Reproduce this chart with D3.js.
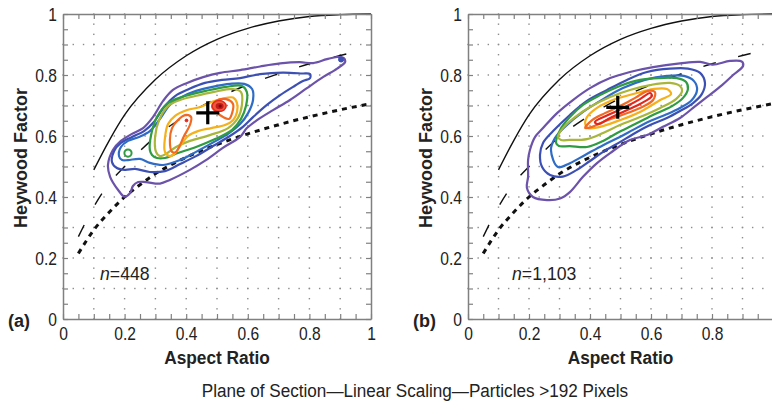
<!DOCTYPE html>
<html><head><meta charset="utf-8">
<script src="https://cdn.jsdelivr.net/npm/d3@7"></script>
<style>
body{margin:0;background:#fff;}
svg{display:block;}
.lbl{font-family:"Liberation Sans",Arial,sans-serif;font-size:19px;fill:#222;}
.bold{font-family:"Liberation Sans",Arial,sans-serif;font-weight:bold;font-size:18px;fill:#222;}
</style></head><body>
<svg id="chart" width="772" height="408"></svg>
<script>
// ---------- data ----------
const majorTicks = [0, 0.2, 0.4, 0.6, 0.8, 1];
const minorStep = 0.05;
const gridValues = [0.1,0.2,0.3,0.4,0.5,0.6,0.7,0.8,0.9];

// theoretical curves
const solidAR = [0.1,0.15,0.2,0.3,0.4,0.5,0.6,0.7,0.8,0.9,1.0];
const solidHF = [0.489,0.585,0.669,0.785,0.863,0.917,0.953,0.977,0.992,0.998,1.0];
const dashAR  = [0.05,0.1,0.15,0.2,0.3,0.4,0.5,0.6,0.7,0.8,0.9,0.945];
const dashHF  = [0.27,0.368,0.445,0.50,0.597,0.668,0.724,0.768,0.804,0.837,0.864,0.875];
const dotAR   = [0.05,0.1,0.15,0.2,0.25,0.3,0.35,0.4,0.5,0.6,0.7,0.8,0.9,1.0];
const dotHF   = [0.215,0.292,0.35,0.40,0.44,0.476,0.505,0.53,0.572,0.607,0.637,0.663,0.686,0.706];

// contour levels (outer -> inner)
const levelNames  = ["purple","blue1","blue2","green","olive","yellow","orange","red"];
const levelColors = ["#6b52aa","#3c50b4","#2f6cc6","#2f9c42","#a8b63a","#f5b01a","#f26a22","#e2261c"];

// panel (a) contours [aspect ratio, Heywood factor]
const a_purple = [[0.200,0.401],[0.179,0.423],[0.153,0.466],[0.146,0.505],[0.162,0.554],[0.188,0.584],[0.224,0.607],[0.260,0.626],[0.292,0.662],[0.325,0.715],[0.357,0.751],[0.403,0.774],[0.455,0.793],[0.510,0.807],[0.575,0.816],[0.640,0.828],[0.705,0.838],[0.769,0.842],[0.812,0.839],[0.857,0.852],[0.890,0.859],[0.911,0.856],[0.916,0.843],[0.890,0.821],[0.844,0.793],[0.792,0.757],[0.737,0.718],[0.682,0.685],[0.630,0.652],[0.597,0.626],[0.575,0.597],[0.519,0.561],[0.464,0.521],[0.412,0.489],[0.347,0.456],[0.315,0.444],[0.269,0.449],[0.244,0.449],[0.227,0.436],[0.218,0.413]];
const a_blue1 = [[0.159,0.515],[0.166,0.551],[0.188,0.577],[0.224,0.597],[0.263,0.616],[0.295,0.646],[0.328,0.695],[0.364,0.731],[0.409,0.754],[0.461,0.774],[0.516,0.784],[0.575,0.790],[0.640,0.803],[0.714,0.808],[0.776,0.805],[0.802,0.803],[0.802,0.790],[0.779,0.780],[0.747,0.761],[0.705,0.734],[0.662,0.702],[0.617,0.662],[0.584,0.630],[0.542,0.600],[0.487,0.567],[0.432,0.534],[0.380,0.508],[0.331,0.485],[0.282,0.482],[0.234,0.492],[0.201,0.489],[0.175,0.495]];
const a_blue2 = [[0.182,0.534],[0.188,0.564],[0.211,0.584],[0.247,0.597],[0.282,0.616],[0.315,0.656],[0.347,0.702],[0.386,0.728],[0.432,0.748],[0.484,0.761],[0.542,0.771],[0.588,0.771],[0.614,0.754],[0.617,0.718],[0.601,0.675],[0.575,0.639],[0.536,0.607],[0.484,0.577],[0.432,0.548],[0.380,0.521],[0.325,0.505],[0.282,0.512],[0.250,0.525],[0.211,0.521],[0.192,0.521]];
const a_green = [[0.282,0.554],[0.286,0.603],[0.305,0.662],[0.341,0.708],[0.396,0.731],[0.464,0.748],[0.529,0.761],[0.581,0.764],[0.597,0.744],[0.594,0.698],[0.578,0.656],[0.549,0.620],[0.494,0.590],[0.432,0.564],[0.373,0.544],[0.331,0.528],[0.305,0.528],[0.289,0.538]];
const a_olive = [[0.302,0.548],[0.299,0.597],[0.312,0.652],[0.341,0.698],[0.380,0.718],[0.429,0.731],[0.487,0.744],[0.552,0.754],[0.578,0.744],[0.581,0.702],[0.568,0.659],[0.536,0.626],[0.477,0.603],[0.412,0.584],[0.367,0.564],[0.334,0.541],[0.315,0.534]];
const a_yellow = [[0.331,0.548],[0.331,0.593],[0.341,0.639],[0.364,0.666],[0.403,0.685],[0.445,0.695],[0.484,0.712],[0.520,0.723],[0.552,0.726],[0.565,0.708],[0.565,0.679],[0.552,0.652],[0.526,0.636],[0.481,0.626],[0.438,0.616],[0.406,0.600],[0.383,0.571],[0.364,0.544],[0.347,0.534]];
const a_orange1 = [[0.354,0.548],[0.347,0.587],[0.354,0.626],[0.373,0.652],[0.399,0.669],[0.416,0.662],[0.412,0.636],[0.393,0.600],[0.377,0.564],[0.367,0.548]];
const a_orange2 = [[0.484,0.695],[0.497,0.715],[0.529,0.721],[0.552,0.705],[0.549,0.675],[0.539,0.656],[0.520,0.662],[0.497,0.679]];
const a_contours = [["purple",a_purple],["blue1",a_blue1],["blue2",a_blue2],["green",a_green],["olive",a_olive],["yellow",a_yellow],["orange",a_orange1],["orange",a_orange2]];
const a_peak = [0.507,0.698];
const a_spots = [["blue1",0.903,0.851],["green",0.211,0.544],["red",0.401,0.651]];
const a_mean = [0.470,0.676];

// panel (b) contours
const b_purple = [[0.197,0.521],[0.203,0.554],[0.220,0.597],[0.246,0.626],[0.292,0.675],[0.344,0.718],[0.400,0.757],[0.466,0.790],[0.531,0.810],[0.607,0.826],[0.695,0.838],[0.761,0.843],[0.803,0.834],[0.859,0.846],[0.898,0.844],[0.902,0.830],[0.869,0.800],[0.833,0.767],[0.784,0.728],[0.738,0.692],[0.695,0.659],[0.639,0.630],[0.587,0.603],[0.531,0.587],[0.466,0.544],[0.423,0.511],[0.377,0.466],[0.334,0.416],[0.302,0.395],[0.259,0.390],[0.213,0.400],[0.193,0.430],[0.197,0.466]];
const b_blue1 = [[0.236,0.538],[0.246,0.577],[0.279,0.616],[0.334,0.669],[0.390,0.715],[0.456,0.751],[0.521,0.784],[0.587,0.810],[0.662,0.821],[0.721,0.821],[0.761,0.807],[0.777,0.774],[0.767,0.738],[0.738,0.708],[0.695,0.682],[0.652,0.659],[0.597,0.636],[0.548,0.610],[0.498,0.580],[0.443,0.548],[0.400,0.518],[0.357,0.489],[0.311,0.467],[0.269,0.472],[0.243,0.498]];
const b_blue2 = [[0.272,0.554],[0.285,0.593],[0.321,0.633],[0.377,0.679],[0.443,0.721],[0.508,0.757],[0.580,0.784],[0.652,0.797],[0.708,0.797],[0.741,0.780],[0.751,0.751],[0.734,0.718],[0.695,0.692],[0.646,0.669],[0.590,0.646],[0.541,0.620],[0.498,0.597],[0.443,0.570],[0.384,0.538],[0.334,0.511],[0.295,0.498]];
const b_green = [[0.289,0.577],[0.302,0.620],[0.334,0.662],[0.377,0.702],[0.433,0.734],[0.498,0.764],[0.564,0.784],[0.630,0.790],[0.685,0.790],[0.715,0.777],[0.721,0.754],[0.705,0.725],[0.669,0.698],[0.613,0.672],[0.548,0.639],[0.489,0.610],[0.443,0.584],[0.390,0.564],[0.334,0.567],[0.298,0.567]];
const b_olive = [[0.295,0.597],[0.311,0.626],[0.351,0.662],[0.400,0.695],[0.466,0.728],[0.531,0.751],[0.597,0.767],[0.662,0.774],[0.695,0.764],[0.702,0.748],[0.682,0.721],[0.630,0.692],[0.564,0.662],[0.498,0.636],[0.443,0.610],[0.390,0.590],[0.334,0.587],[0.305,0.587]];
const b_yellow = [[0.384,0.643],[0.390,0.662],[0.423,0.692],[0.475,0.718],[0.554,0.741],[0.607,0.754],[0.652,0.754],[0.666,0.738],[0.630,0.718],[0.564,0.679],[0.498,0.652],[0.433,0.630],[0.393,0.626]];
const b_orange = [[0.384,0.626],[0.407,0.652],[0.449,0.675],[0.498,0.698],[0.548,0.725],[0.590,0.748],[0.613,0.744],[0.607,0.718],[0.564,0.692],[0.505,0.669],[0.449,0.649],[0.407,0.630]];
const b_red = [[0.416,0.646],[0.466,0.672],[0.515,0.695],[0.564,0.721],[0.597,0.741],[0.603,0.731],[0.564,0.705],[0.515,0.682],[0.466,0.659],[0.426,0.639]];
const b_contours = [["purple",b_purple],["blue1",b_blue1],["blue2",b_blue2],["green",b_green],["olive",b_olive],["yellow",b_yellow],["orange",b_orange],["red",b_red]];
const b_mean = [0.491,0.694];

const panelTags = ["(a)","(b)"];
const sampleSizes = ["448","1,103"];
const xTitle = "Aspect Ratio", yTitle = "Heywood Factor";
const caption = "Plane of Section\u2014Linear Scaling\u2014Particles >192 Pixels";

// ---------- drawing ----------
const svg = d3.select("#chart");
const colorOf = d3.scaleOrdinal().domain(levelNames).range(levelColors);
const AX = "#808080";
// condense text (the original uses a narrow face)
const narrow = (sel, k) => sel.each(function(){
  const w = this.getComputedTextLength();
  if (w > 0) d3.select(this).attr("textLength", w*k).attr("lengthAdjust","spacingAndGlyphs");
});

const panels = [
  {left:63, right:371, xLabels:[0,0.2,0.4,0.6,0.8,1], rightAxis:true, contours:a_contours, mean:a_mean, tag:panelTags[0], n:sampleSizes[0], nX:100, peak:a_peak, spots:a_spots},
  {left:468, right:773, xLabels:[0,0.2,0.4,0.6,0.8], rightAxis:false, contours:b_contours, mean:b_mean, tag:panelTags[1], n:sampleSizes[1], nX:512, peak:null, spots:[]}
];
const plotTop = 14, plotBottom = 319;
const fmt = d => d === 0 ? "0" : d === 1 ? "1" : d3.format(".1f")(d);
const minorVals = d3.range(0, 21).map(i => +(i*minorStep).toFixed(2));

panels.forEach((p, pi) => {
  const x = d3.scaleLinear().domain([0,1]).range([p.left, p.right]);
  const y = d3.scaleLinear().domain([0,1]).range([plotBottom, plotTop]);
  const g = svg.append("g");

  // dotted grid
  const gd = g.append("g").attr("fill", "#8c8c8c");
  const fine = d3.range(0, 31).map(i => i/30);
  gridValues.forEach(v => {
    fine.forEach(f => {
      gd.append("rect").attr("x", x(f)-0.7).attr("y", y(v)-0.7).attr("width",1.4).attr("height",1.4);
      gd.append("rect").attr("x", x(v)-0.7).attr("y", y(f)-0.7).attr("width",1.4).attr("height",1.4);
    });
  });

  // theoretical curves
  const line = d3.line().x(d => x(d[0])).y(d => y(d[1])).curve(d3.curveMonotoneX);
  g.append("path").datum(solidAR.map((v,i)=>[v, solidHF[i]])).attr("d", line)
    .attr("fill","none").attr("stroke","#111").attr("stroke-width",1.4);
  g.append("path").datum(dashAR.map((v,i)=>[v, dashHF[i]])).attr("d", line)
    .attr("fill","none").attr("stroke","#111").attr("stroke-width",1.4).attr("stroke-dasharray","13,23");
  g.append("path").datum(dotAR.map((v,i)=>[v, dotHF[i]])).attr("d", line)
    .attr("fill","none").attr("stroke","#111").attr("stroke-width",3).attr("stroke-dasharray","5,5");

  // contours
  const cl = d3.line().x(d => x(d[0])).y(d => y(d[1])).curve(d3.curveCatmullRomClosed.alpha(0.5));
  p.contours.forEach(([lv, pts]) => {
    g.append("path").datum(pts).attr("d", cl).attr("fill","none")
      .attr("stroke", colorOf(lv)).attr("stroke-width", 2.2).attr("stroke-linejoin","round");
  });
  p.spots.forEach(([lv, sx, sy]) => {
    const big = lv === "green";
    g.append("circle").attr("cx", x(sx)).attr("cy", y(sy)).attr("r", big ? 3.6 : (lv==="red"?1.4:2.6))
      .attr("fill", big ? "none" : colorOf(lv)).attr("stroke", colorOf(lv)).attr("stroke-width", big ? 2 : 1);
  });
  if (p.peak) {
    g.append("ellipse").attr("cx", x(p.peak[0])).attr("cy", y(p.peak[1])).attr("rx", 7).attr("ry", 5.5)
      .attr("fill", "#ec5a3c").attr("stroke", "#e2261c").attr("stroke-width", 1.5);
    g.append("ellipse").attr("cx", x(p.peak[0])+0.5).attr("cy", y(p.peak[1])).attr("rx", 4).attr("ry", 3.2).attr("fill", "#c41a1a");
    g.append("circle").attr("cx", x(p.peak[0])+1).attr("cy", y(p.peak[1])).attr("r", 1.6).attr("fill", "#7a0c0c");
  }

  // mean cross
  const cx = x(p.mean[0]), cy = y(p.mean[1]);
  g.append("path").attr("d", `M${cx-11.5},${cy}H${cx+11.5}M${cx},${cy-11.5}V${cy+11.5}`)
    .attr("stroke","#000").attr("stroke-width",3.2);

  // axes
  const styleAxis = sel => {
    sel.select(".domain").attr("stroke", AX).attr("stroke-width", 1.5);
    sel.selectAll(".tick line").attr("stroke", AX).attr("stroke-width", 1.2);
    sel.selectAll(".tick text").attr("class","lbl").attr("fill","#222").call(narrow, 0.82);
  };
  const xVals = minorVals.filter(v => x(v) <= 772);
  g.append("g").attr("transform", `translate(0,${plotBottom})`)
    .call(d3.axisBottom(x).tickValues(xVals).tickSizeInner(-5).tickSizeOuter(0).tickPadding(8)
      .tickFormat(d => p.xLabels.some(l => Math.abs(l-d)<1e-9) ? fmt(d) : ""))
    .call(styleAxis);
  g.append("g").attr("transform", `translate(0,${plotTop})`)
    .call(d3.axisTop(x).tickValues(xVals).tickSizeInner(-5).tickSizeOuter(0).tickFormat(""))
    .call(styleAxis);
  g.append("g").attr("transform", `translate(${p.left},0)`)
    .call(d3.axisLeft(y).tickValues(minorVals).tickSizeInner(-5).tickSizeOuter(0).tickPadding(6)
      .tickFormat(d => majorTicks.some(l => Math.abs(l-d)<1e-9) ? fmt(d) : ""))
    .call(styleAxis);
  if (p.rightAxis) {
    g.append("g").attr("transform", `translate(${p.right},0)`)
      .call(d3.axisRight(y).tickValues(minorVals).tickSizeInner(-5).tickSizeOuter(0).tickFormat(""))
      .call(styleAxis);
  }

  // titles
  g.append("text").attr("class","bold").attr("x", (p.left+p.right)/2).attr("y", 364)
    .attr("text-anchor","middle").text(xTitle).call(narrow, 0.96);
  g.append("text").attr("class","bold").attr("transform", `translate(${p.left-36},158) rotate(-90)`)
    .attr("text-anchor","middle").text(yTitle);
  g.append("text").attr("class","bold").attr("x", p.left-55).attr("y", 327).text(p.tag);
  const nt = g.append("text").attr("class","lbl").attr("x", p.nX).attr("y", 280);
  nt.append("tspan").attr("font-style","italic").text("n");
  nt.append("tspan").text("=" + p.n);
  nt.call(narrow, 0.93);
});

svg.append("text").attr("class","lbl").attr("x", 415).attr("y", 397).attr("text-anchor","middle")
  .style("font-size","18px").text(caption).call(narrow, 0.95);
</script>
</body></html>
